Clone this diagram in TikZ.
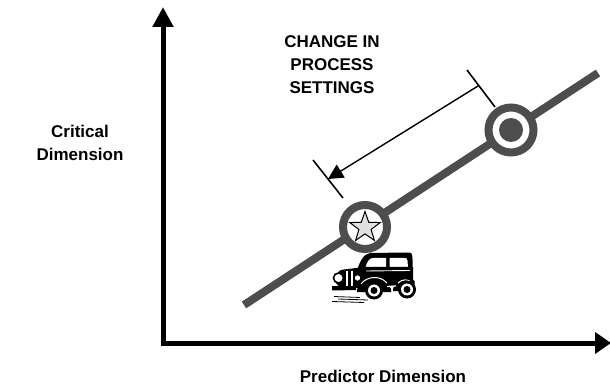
\documentclass[tikz,border=0pt]{standalone}
\usepackage{fontspec}
\setmainfont{Liberation Sans}
\usetikzlibrary{arrows.meta,calc,shapes.geometric}
\definecolor{trend}{RGB}{77,77,77}
\definecolor{starfill}{RGB}{224,224,224}
\tikzset{
  axis/.style={line width=5pt,-{Triangle[length=20pt,width=20pt]}},
  trendline/.style={draw=trend,line width=8pt},
  ring/.style={draw=trend,line width=8pt,fill=white},
  tick/.style={line width=1.6pt},
  shiftarrow/.style={line width=1.4pt,-{Triangle[length=15pt,width=15pt]}},
  label/.style={font=\bfseries\fontsize{17}{23}\selectfont,align=center,inner sep=0pt},
  carblack/.style={fill=black},
  carwhite/.style={fill=white},
}
\begin{document}
\begin{tikzpicture}[x=1pt,y=-1pt]
\useasboundingbox (0,0) rectangle (610,387);
% axes
\coordinate (origin) at (163,343);
\coordinate (ybase) at (163,345.5);
\coordinate (xbase) at (160.5,343);
\coordinate (ytip) at (163,7);
\coordinate (xtip) at (611,343);
\draw[axis] (ybase) -- (ytip);
\draw[axis,-{Triangle[length=16pt,width=21pt]}] (xbase) -- (xtip);
% trend line through the two operating points
\coordinate (lineA) at (244,305);
\coordinate (lineB) at (598,73);
\draw[trendline] (lineA) -- (lineB);
% operating points
\node[circle,ring,minimum size=44pt,inner sep=0pt] (old) at (365,227) {};
\node[circle,ring,minimum size=45pt,inner sep=0pt] (new) at (511,130) {};
\fill[trend] (new.center) circle (12pt);
\node[star,star points=5,star point ratio=2.5,draw=black,fill=starfill,line width=1pt,minimum size=32pt,inner sep=0pt] (target) at (365,227.5) {};
% dimension arrow with extension ticks
\coordinate (tA1) at (313,160);
\coordinate (tA2) at (343,198);
\coordinate (tB1) at (467,70);
\coordinate (tB2) at (495,107);
\draw[tick] (tA1) -- (tA2);
\draw[tick] (tB1) -- (tB2);
\coordinate (arrowstart) at ($(tB1)!0.42!(tB2)$);
\coordinate (arrowend) at ($(tA1)!0.5!(tA2)$);
\draw[shiftarrow] (arrowstart) -- (arrowend);
% labels
\node[label] (change) at (332,65) {CHANGE IN\\PROCESS\\SETTINGS};
\node[label] (ylabel) at (80,142.5) {Critical\\Dimension};
\node[label] (xlabel) at (383,376) {Predictor Dimension};
% vintage car
\begin{scope}[shift={(330,250)}]
  % speed lines
  \foreach \ya/\xa/\xb in {46.5/4/30, 49/8/38, 51.5/2/34} {
    \draw[line width=0.8pt] (\xa,\ya) -- (\xb,\ya+1);
  }
  % cabin
  \fill[carblack] (27,20) .. controls (30,12) and (33,4) .. (40,3) -- (76,2.5)
     .. controls (82,2.5) .. (82.5,9) -- (83,30) -- (27,30) -- cycle;
  \fill[carwhite] (35.5,17.5) .. controls (37,12) and (39,8) .. (43,8) -- (56,8) -- (56,17.5) -- cycle;
  \fill[carwhite] (59.5,8) -- (74,8) .. controls (77,8) .. (77.5,11) -- (78,17.5) -- (59.5,17.5) -- cycle;
  % hood and body
  \fill[carblack] (7,25) .. controls (9,20) .. (18,19) -- (34,17) -- (83,17)
     -- (83,36) -- (20,38) .. controls (10,38) .. (6,33) -- cycle;
  % rear fender
  \fill[carblack] (63,39) .. controls (65,27) and (80,26) .. (84.5,31) -- (84.5,41) -- (63,41) -- cycle;
  % front fender
  \fill[carblack] (27,42) .. controls (27,25) and (52,21) .. (61,39) -- (61,42) -- cycle;
  % chrome highlights
  \draw[white,line width=1.3pt] (57,36.5) -- (66,36);
  \draw[white,line width=1pt] (31,34) .. controls (37,26) and (50,25) .. (57,33);
  \draw[white,line width=1pt] (68,33) .. controls (72,29) and (78,29) .. (81,32);
  \draw[white,line width=0.9pt] (36,21) -- (80,20.5);
  % grille
  \fill[carwhite] (16,21) rectangle (18,36);
  \fill[carwhite] (20.5,21) rectangle (22.5,36);
  % headlights
  \filldraw[fill=white,draw=black,line width=1.6pt] (8.5,28) circle (5pt);
  \filldraw[fill=white,draw=black,line width=1.2pt] (27.5,28) circle (3.4pt);
  % bumper
  \fill[carblack] (2,37) .. controls (2,36) .. (4,36) -- (26,36.5) -- (26,40) -- (4,40.5) .. controls (2,40.5) .. (2,39) -- cycle;
  % wheels
  \foreach \cx/\cy in {44/40.5, 77/39.5} {
    \fill[black] (\cx,\cy) circle (9pt);
    \fill[white] (\cx,\cy) circle (6pt);
    \fill[black] (\cx,\cy) circle (3.5pt);
  }
\end{scope}
\end{tikzpicture}
\end{document}
